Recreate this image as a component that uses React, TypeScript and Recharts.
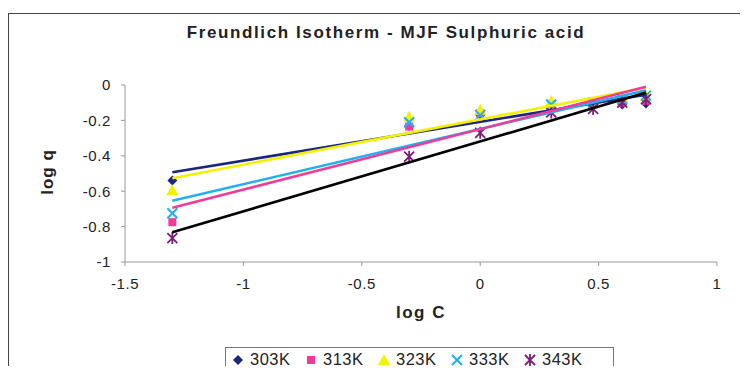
import { ScatterChart, Scatter, XAxis, YAxis } from 'recharts';

// log C values (x) shared by every temperature series
const logC = [-1.3, -0.3, 0, 0.3, 0.477, 0.6, 0.7];

// log q, one list per temperature
const q303 = [-0.54, -0.23, -0.17, -0.11, -0.11, -0.11, -0.105];
const q313 = [-0.775, -0.235, -0.16, -0.11, -0.11, -0.1, -0.09];
const q323 = [-0.595, -0.18, -0.14, -0.09, -0.1, -0.07, -0.06];
const q333 = [-0.725, -0.21, -0.17, -0.11, -0.1, -0.08, -0.06];
const q343 = [-0.865, -0.405, -0.27, -0.155, -0.135, -0.1, -0.08];

// linear trendline end points (at first and last log C)
const trendX = [-1.3, 0.7];
const t303 = [-0.493, -0.055];
const t313 = [-0.693, -0.01];
const t323 = [-0.527, -0.015];
const t333 = [-0.654, -0.03];
const t343 = [-0.832, -0.043];

const xTicks = [-1.5, -1, -0.5, 0, 0.5, 1];
const yTicks = [0, -0.2, -0.4, -0.6, -0.8, -1];
const labels = ['303K', '313K', '323K', '333K', '343K'];

const NAVY = '#1c2680';
const PINK = '#f03c98';
const YELLOW = '#f4f000';
const CYAN = '#1eb0f0';
const PURPLE = '#7a1e78';

const FONT = 'Arial, "Liberation Sans", sans-serif';

const pts = (ys: number[]) => logC.map((x, i) => ({ x, y: ys[i] }));
const line = (ys: number[]) => trendX.map((x, i) => ({ x, y: ys[i] }));

type P = { cx?: number; cy?: number };

const Diamond = ({ cx = 0, cy = 0 }: P) => (
  <path d={`M${cx},${cy - 5}L${cx + 5},${cy}L${cx},${cy + 5}L${cx - 5},${cy}Z`} fill={NAVY} />
);
const Square = ({ cx = 0, cy = 0 }: P) => (
  <rect x={cx - 4} y={cy - 4} width={8} height={8} fill={PINK} />
);
const Triangle = ({ cx = 0, cy = 0 }: P) => (
  <path d={`M${cx},${cy - 6}L${cx + 6},${cy + 5}L${cx - 6},${cy + 5}Z`} fill={YELLOW} />
);
const XMark = ({ cx = 0, cy = 0 }: P) => (
  <path
    d={`M${cx - 5},${cy - 5}L${cx + 5},${cy + 5}M${cx + 5},${cy - 5}L${cx - 5},${cy + 5}`}
    stroke={CYAN}
    strokeWidth={2}
  />
);
const Star = ({ cx = 0, cy = 0 }: P) => (
  <path
    d={`M${cx - 5},${cy - 5}L${cx + 5},${cy + 5}M${cx + 5},${cy - 5}L${cx - 5},${cy + 5}M${cx},${cy - 6}L${cx},${cy + 6}`}
    stroke={PURPLE}
    strokeWidth={1.8}
  />
);
const NoDot = () => <g />;

const legendIcons = [Diamond, Square, Triangle, XMark, Star];

export default function App() {
  return (
    <div style={{ position: 'relative', width: 748, height: 374, margin: -8, overflow: 'hidden', background: '#fff', fontFamily: FONT }}>
      <div
        style={{
          position: 'absolute',
          left: 8,
          top: 13,
          width: 738,
          height: 400,
          border: '1.5px solid #444',
          boxSizing: 'border-box',
        }}
      />
      <div
        style={{
          position: 'absolute',
          left: 386,
          top: 33,
          transform: 'translate(-50%, -50%)',
          fontSize: 17,
          letterSpacing: 1.6,
          fontWeight: 'bold',
          color: '#222',
          whiteSpace: 'nowrap',
        }}
      >
        Freundlich Isotherm - MJF Sulphuric acid
      </div>
      <div
        style={{
          position: 'absolute',
          left: 48,
          top: 172,
          transform: 'translate(-50%, -50%) rotate(-90deg)',
          fontSize: 17,
          letterSpacing: 1,
          fontWeight: 'bold',
          color: '#222',
          whiteSpace: 'nowrap',
        }}
      >
        log q
      </div>
      <div
        style={{
          position: 'absolute',
          left: 421,
          top: 313,
          transform: 'translate(-50%, -50%)',
          fontSize: 17,
          letterSpacing: 1.5,
          fontWeight: 'bold',
          color: '#222',
          whiteSpace: 'nowrap',
        }}
      >
        log C
      </div>
      <div style={{ position: 'absolute', left: 0, top: 0 }}>
        <ScatterChart width={748} height={374} margin={{ top: 85, right: 31, bottom: 82, left: 65 }}>
          <XAxis
            type="number"
            dataKey="x"
            domain={[-1.5, 1]}
            ticks={xTicks}
            height={30}
            tickSize={4}
            tickMargin={12}
            axisLine={{ stroke: '#999' }}
            tickLine={{ stroke: '#999' }}
            tick={{ fill: '#222', fontSize: 15, fontFamily: FONT, letterSpacing: 0.6 }}
          />
          <YAxis
            type="number"
            dataKey="y"
            domain={[-1, 0]}
            ticks={yTicks}
            width={60}
            tickSize={4}
            tickMargin={10}
            axisLine={{ stroke: '#999' }}
            tickLine={{ stroke: '#999' }}
            tick={{ fill: '#222', fontSize: 15, fontFamily: FONT, letterSpacing: 0.6 }}
          />
          <Scatter data={pts(q303)} shape={Diamond} isAnimationActive={false} />
          <Scatter data={pts(q313)} shape={Square} isAnimationActive={false} />
          <Scatter data={pts(q323)} shape={Triangle} isAnimationActive={false} />
          <Scatter data={pts(q333)} shape={XMark} isAnimationActive={false} />
          <Scatter data={pts(q343)} shape={Star} isAnimationActive={false} />
          <Scatter data={line(t303)} line={{ stroke: NAVY, strokeWidth: 2.6 }} shape={NoDot} isAnimationActive={false} />
          <Scatter data={line(t323)} line={{ stroke: YELLOW, strokeWidth: 2.6 }} shape={NoDot} isAnimationActive={false} />
          <Scatter data={line(t333)} line={{ stroke: CYAN, strokeWidth: 2.6 }} shape={NoDot} isAnimationActive={false} />
          <Scatter data={line(t313)} line={{ stroke: PINK, strokeWidth: 2.6 }} shape={NoDot} isAnimationActive={false} />
          <Scatter data={line(t343)} line={{ stroke: '#000', strokeWidth: 2.6 }} shape={NoDot} isAnimationActive={false} />
        </ScatterChart>
      </div>
      <div
        style={{
          position: 'absolute',
          left: 225,
          top: 347,
          width: 389,
          height: 40,
          border: '1px solid #777',
          boxSizing: 'border-box',
          display: 'flex',
          alignItems: 'flex-start',
          paddingTop: 2,
          paddingLeft: 5,
          fontSize: 16.5,
          letterSpacing: 0.5,
          color: '#222',
        }}
      >
        {labels.map((lab, i) => {
          const Icon = legendIcons[i];
          return (
            <span key={lab} style={{ display: 'flex', alignItems: 'center', width: 73 }}>
              <svg width={14} height={14} style={{ marginRight: 5 }}>
                <Icon cx={7} cy={7} />
              </svg>
              {lab}
            </span>
          );
        })}
      </div>
    </div>
  );
}
